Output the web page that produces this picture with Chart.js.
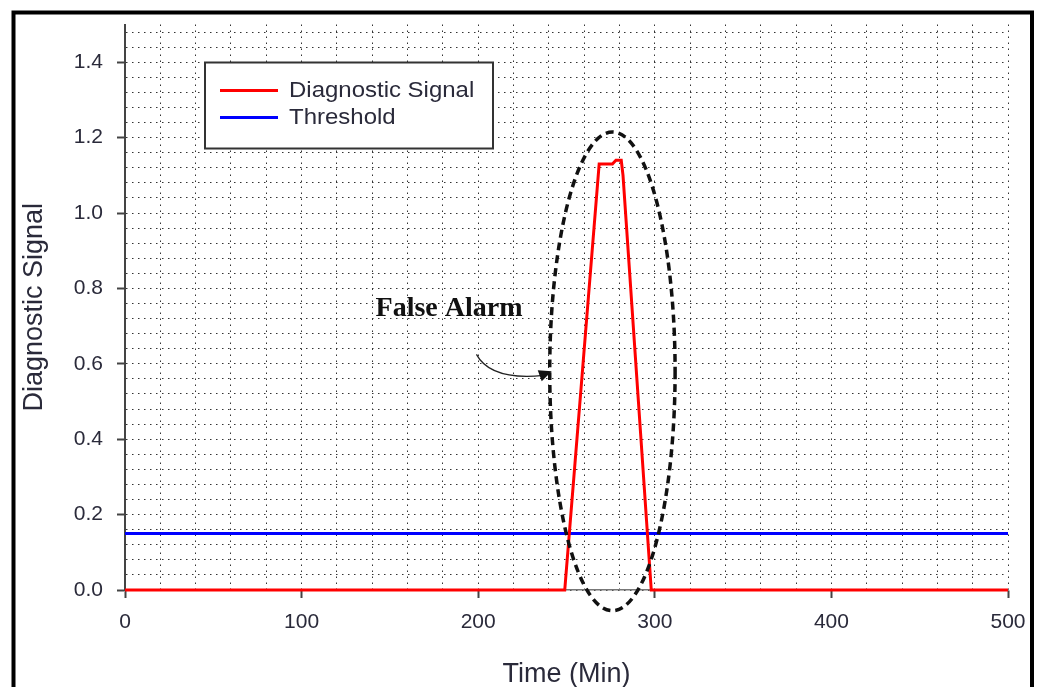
<!DOCTYPE html>
<html>
<head>
<meta charset="utf-8">
<script src="https://cdn.jsdelivr.net/npm/chart.js@4/dist/chart.umd.min.js"></script>
<style>
  html, body { margin: 0; padding: 0; background: #fff; }
  #wrap { width: 1040px; height: 687px; }
</style>
</head>
<body>
<div id="wrap"><canvas id="chart" width="1040" height="687"></canvas></div>
<script>
'use strict'

// ---- data ----
var signalTime  = [0, 249, 268.5, 276, 278, 281, 282, 298, 500];
var signalValue = [0, 0,   1.13,  1.13, 1.14, 1.14, 1.10, 0, 0];
var thresholdTime  = [0, 500];
var thresholdValue = [0.15, 0.15];
var seriesNames = ["Diagnostic Signal", "Threshold"];

// note (ellipse + arrow) in data units
var noteText = "False Alarm";
var notePos = [183.5, 0.745];
var ellipseCenter = [276, 0.58];
var ellipseRadius = [35.5, 0.635];
var arrowFrom = [199, 0.625];
var arrowVia = [207, 0.555];
var arrowTo = [240.5, 0.572];

var FONT = '"Liberation Sans", Arial, sans-serif';

function toPoints(xs, ys) {
	var pts = [];
	for (var k = 0; k < xs.length; k++) pts.push({x: xs[k], y: ys[k]});
	return pts;
}

var isMajorY = function(v) { return Math.abs(v * 5 - Math.round(v * 5)) < 1e-6; };
var isMajorX = function(v) { return v % 100 === 0; };

//------------- frame, legend, note ------------- //
var extras = {
	id: 'extras',
	beforeDraw: function(chart) {
		var c = chart.ctx;
		c.save();
		c.fillStyle = '#fff';
		c.fillRect(0, 0, chart.width, chart.height);
		c.restore();
	},
	afterDraw: function(chart) {
		var c = chart.ctx;
		var xs = chart.scales.x, ys = chart.scales.y;
		var area = chart.chartArea;

		// outer frame
		c.save();
		c.strokeStyle = '#000';
		c.lineWidth = 4;
		c.strokeRect(13.5, 12.5, 1018.5, 720);
		c.restore();

		// ellipse
		var cx = xs.getPixelForValue(ellipseCenter[0]);
		var cy = ys.getPixelForValue(ellipseCenter[1]);
		var rx = Math.abs(xs.getPixelForValue(ellipseCenter[0] + ellipseRadius[0]) - cx);
		var ry = Math.abs(ys.getPixelForValue(ellipseCenter[1] + ellipseRadius[1]) - cy);
		c.save();
		c.strokeStyle = '#111';
		c.lineWidth = 3.5;
		c.setLineDash([8, 5]);
		c.beginPath();
		c.ellipse(cx, cy, rx, ry, 0, 0, Math.PI * 2);
		c.stroke();
		c.restore();

		// label
		c.save();
		c.fillStyle = '#111';
		c.font = 'bold 28px "Liberation Serif", serif';
		c.textAlign = 'center';
		c.textBaseline = 'middle';
		c.fillText(noteText, xs.getPixelForValue(notePos[0]), ys.getPixelForValue(notePos[1]));
		c.restore();

		// curved arrow
		var ax = xs.getPixelForValue(arrowFrom[0]), ay = ys.getPixelForValue(arrowFrom[1]);
		var qx = xs.getPixelForValue(arrowVia[0]), qy = ys.getPixelForValue(arrowVia[1]);
		var bx = xs.getPixelForValue(arrowTo[0]), by = ys.getPixelForValue(arrowTo[1]);
		c.save();
		c.strokeStyle = '#222';
		c.fillStyle = '#111';
		c.lineWidth = 1.3;
		c.beginPath();
		c.moveTo(ax, ay);
		c.quadraticCurveTo(qx, qy, bx - 6, by + 1);
		c.stroke();
		c.beginPath();
		c.moveTo(bx + 2, by - 3);
		c.lineTo(bx - 12, by - 4);
		c.lineTo(bx - 8, by + 7);
		c.closePath();
		c.fill();
		c.restore();

		// legend box
		var lx = area.left + 80, ly = area.top + 38, lw = 288, lh = 86;
		c.save();
		c.fillStyle = '#fff';
		c.fillRect(lx, ly, lw, lh);
		c.strokeStyle = '#333';
		c.lineWidth = 2;
		c.strokeRect(lx, ly, lw, lh);
		c.font = '22px ' + FONT;
		c.textBaseline = 'middle';
		chart.data.datasets.forEach(function(ds, n) {
			var yy = ly + 28 + n * 27;
			c.strokeStyle = ds.borderColor;
			c.lineWidth = 3;
			c.beginPath();
			c.moveTo(lx + 15, yy);
			c.lineTo(lx + 73, yy);
			c.stroke();
			c.fillStyle = '#2a2a3a';
			c.save();
			c.translate(lx + 84, yy);
			c.scale(1.09, 1);
			c.fillText(ds.label, 0, 0);
			c.restore();
		});
		c.restore();
	}
};

window.onload = function() {
	var ctx = document.getElementById("chart").getContext("2d");

	var myChart = new Chart(ctx, {
		type: 'line',
		data: {
			datasets: [{
				label: seriesNames[0],
				data: toPoints(signalTime, signalValue),
				borderColor: '#ff0000',
				borderWidth: 3,
				pointRadius: 0,
				tension: 0,
				clip: 6
			}, {
				label: seriesNames[1],
				data: toPoints(thresholdTime, thresholdValue),
				borderColor: '#0000ff',
				borderWidth: 3,
				pointRadius: 0,
				tension: 0,
				clip: 6
			}]
		},
		options: {
			responsive: false,
			animation: false,
			layout: { padding: { top: 20, right: 32, left: 0, bottom: 0 } },
			plugins: {
				legend: { display: false },
				tooltip: { enabled: false }
			},
			scales: {
				x: {
					type: 'linear',
					min: 0,
					max: 500,
					afterFit: function(s) { s.height = 97; },
					border: { color: '#777', width: 1.5, dash: [1.5, 4.5] },
					grid: {
						color: '#333',
						lineWidth: 1,
						tickLength: 8,
						tickColor: function(c) { return c.tick && isMajorX(c.tick.value) ? '#444' : 'rgba(0,0,0,0)'; },
						tickWidth: 2
					},
					ticks: {
						stepSize: 20,
						autoSkip: false,
						maxRotation: 0,
						padding: 12,
						color: '#2a2a3a',
						font: { family: FONT, size: 21 },
						callback: function(v) { return isMajorX(v) ? String(v) : ''; }
					},
					title: {
						display: true,
						text: 'Time (Min)',
						color: '#2a2a3a',
						padding: { top: 0, bottom: -4 },
						font: { family: FONT, size: 27 }
					}
				},
				y: {
					min: 0,
					max: 1.5,
					afterFit: function(s) { s.width = 125; },
					border: { color: '#444', width: 2, dash: [1.5, 4.5] },
					grid: {
						color: '#333',
						lineWidth: 1,
						tickLength: 8,
						tickColor: function(c) { return c.tick && isMajorY(c.tick.value) ? '#444' : 'rgba(0,0,0,0)'; },
						tickWidth: 2
					},
					ticks: {
						stepSize: 0.04,
						includeBounds: false,
						autoSkip: false,
						padding: 14,
						color: '#2a2a3a',
						font: { family: FONT, size: 21, lineHeight: 1 },
						callback: function(v) { return isMajorY(v) ? v.toFixed(1) : ''; }
					},
					title: {
						display: true,
						text: 'Diagnostic Signal',
						color: '#2a2a3a',
						padding: { top: 18, bottom: 0 },
						font: { family: FONT, size: 27 }
					}
				}
			}
		},
		plugins: [extras]
	});
};
</script>
</body>
</html>
